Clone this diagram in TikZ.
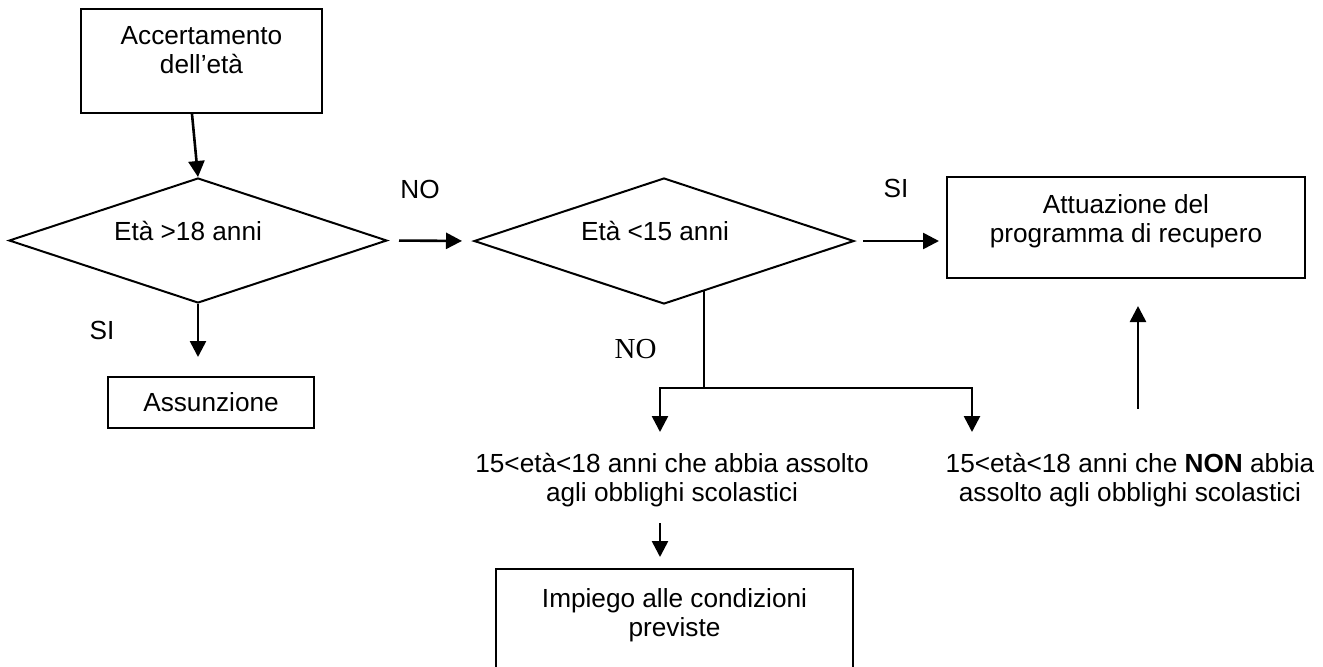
\documentclass[tikz,border=0pt]{standalone}
\usepackage{fontspec}
\setmainfont{Liberation Sans}
\newfontfamily\timesfont{Liberation Serif}
\usetikzlibrary{shapes, arrows.meta, positioning, calc}

\begin{document}
\begin{tikzpicture}[x=0.5pt, y=-0.5pt,
	every node/.style={font=\fontsize{13.1pt}{14.6pt}\selectfont},
	box/.style={draw, line width=1pt, inner sep=0pt},
	cond/.style={diamond, draw, line width=1pt, inner sep=0pt},
	txt/.style={inner sep=0pt, align=center},
	lbl/.style={inner sep=0pt, align=center},
	arr/.style={line width=1.3pt, -{Triangle[length=8pt, width=8pt]}},
	link/.style={line width=0.9pt}]
\useasboundingbox (0,0) rectangle (1323,666);

% blocchi
\node[box, minimum width=120.5pt, minimum height=52pt,
	label={[lbl, yshift=5.25pt]center:Accertamento\\dell’età}] (acc) at (201.5,61) {};
\node[cond, minimum width=189pt, minimum height=62.5pt,
	label={[lbl, xshift=-5pt, yshift=4.8pt]center:Età >18 anni}] (d1) at (198,240.5) {};
\node[box, minimum width=103pt, minimum height=25.5pt] (assun) at (211,402.5) {Assunzione};
\node[cond, minimum width=190pt, minimum height=63pt,
	label={[lbl, xshift=-4.5pt, yshift=4.8pt]center:Età <15 anni}] (d2) at (664,241) {};
\node[box, minimum width=179pt, minimum height=50.5pt,
	label={[lbl, yshift=3.25pt]center:Attuazione del\\programma di recupero}] (att) at (1126,227.5) {};
\node[txt] (txt1) at (672,480) {15<età<18 anni che abbia assolto\\agli obblighi scolastici};
\node[txt] (txt2) at (1130,480) {15<età<18 anni che \textbf{NON} abbia\\assolto agli obblighi scolastici};
\node[box, minimum width=178.5pt, minimum height=52pt,
	label={[lbl, yshift=2.75pt]center:Impiego alle condizioni\\previste}] (imp) at (674.5,621) {};

% etichette
\node[txt] (si1) at (102,330) {SI};
\node[txt] (no1) at (420,189) {NO};
\node[txt] (si2) at (896,188) {SI};
\node[txt, font=\timesfont\fontsize{14.5pt}{16pt}\selectfont] (no2) at (635.5,349) {NO};

% collegamenti
\coordinate (split) at (704,388);
\coordinate (tipL) at (660,432);
\coordinate (tipR) at (972,432);
\draw[arr] ([xshift=-4.75pt]acc.south) -- (d1.north);
\draw[arr, shorten >=9.5pt] (d1.south) -- (d1.south |- assun.north);
\draw[arr, shorten <=5.5pt, shorten >=5.5pt] (d1.east) -- (d2.west);
\draw[arr, shorten <=4pt, shorten >=3.5pt] (d2.east) -- (att.west |- d2.east);
\draw[link] (split |- d2.-51) -- (split);
\draw[arr] (split) -| (tipL);
\draw[arr] (split) -| (tipR);
\draw[arr, shorten <=8pt, shorten >=5.5pt] (tipL |- txt1.south) -- (tipL |- imp.north);
\draw[arr, shorten <=22pt, shorten >=13.5pt] ([xshift=6pt]att.south |- txt2.north) -- ([xshift=6pt]att.south);
\end{tikzpicture}
\end{document}
